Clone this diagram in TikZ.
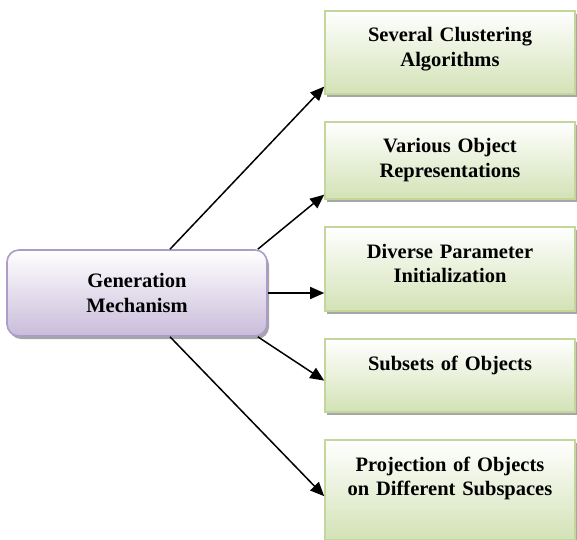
\documentclass[tikz,border=0pt]{standalone}
\usepackage{fontspec}
\setmainfont{Liberation Serif}
\usepackage{tikz}
\usetikzlibrary{arrows.meta, positioning, shadows}
\definecolor{LightGreen}{RGB}{211, 226, 182}
\definecolor{LightGreenLine}{RGB}{195, 214, 155}
\definecolor{LightPurple}{RGB}{201, 188, 218}
\definecolor{LightPurpleLine}{RGB}{172, 156, 201}

\begin{document}
\begin{tikzpicture}[
		x=1pt, y=1pt,
		node distance=26.5pt,
		base/.style={
			rectangle, line width=1.6pt, align=center,
			font=\bfseries\fontsize{20.5}{24.5}\selectfont,
			drop shadow={shadow xshift=2pt, shadow yshift=-3pt, fill=black, opacity=0.35}
		},
		greenNode/.style={base, draw=LightGreenLine, top color=white, bottom color=LightGreen,
			text width=236pt, inner xsep=7pt, inner ysep=16pt, text height=15pt},
		purpleNode/.style={base, rounded corners=12pt, draw=LightPurpleLine, top color=white, bottom color=LightPurple,
			minimum width=260pt, minimum height=86pt},
		arrow/.style={-{Triangle[length=14pt, width=12pt]}, line width=1.5pt, black}
		]
		\useasboundingbox (0,0) rectangle (577,539);
		
		\node[purpleNode] (gen) at (137,246) {Generation \\ Mechanism};
		
		\node[greenNode, text depth=36pt, anchor=north] (algos) at (450,529) {Several Clustering \\ Algorithms};
		\node[greenNode, text depth=30pt] (reps) [below=of algos] {Various Object \\ Representations};
		\node[greenNode, text depth=37pt] (params) [below=of reps] {Diverse Parameter \\ Initialization};
		\node[greenNode, text depth=26pt] (subsets) [below=of params] {Subsets of Objects};
		\node[greenNode, text depth=53pt] (proj) [below=of subsets] {Projection of Objects \\ on Different Subspaces};
		
		\draw [arrow] ([xshift=33pt]gen.north) -- ([yshift=8pt]algos.south west);
		\draw [arrow] ([xshift=-10pt]gen.north east) -- ([yshift=5pt]reps.south west);
		\draw [arrow] (gen.east) -- (gen.east -| params.west);
		\draw [arrow] ([xshift=-10pt]gen.south east) -- ([yshift=-5pt]subsets.west);
		\draw [arrow] ([xshift=33pt]gen.south) -- ([yshift=-6pt]proj.west);
	\end{tikzpicture}
\end{document}
